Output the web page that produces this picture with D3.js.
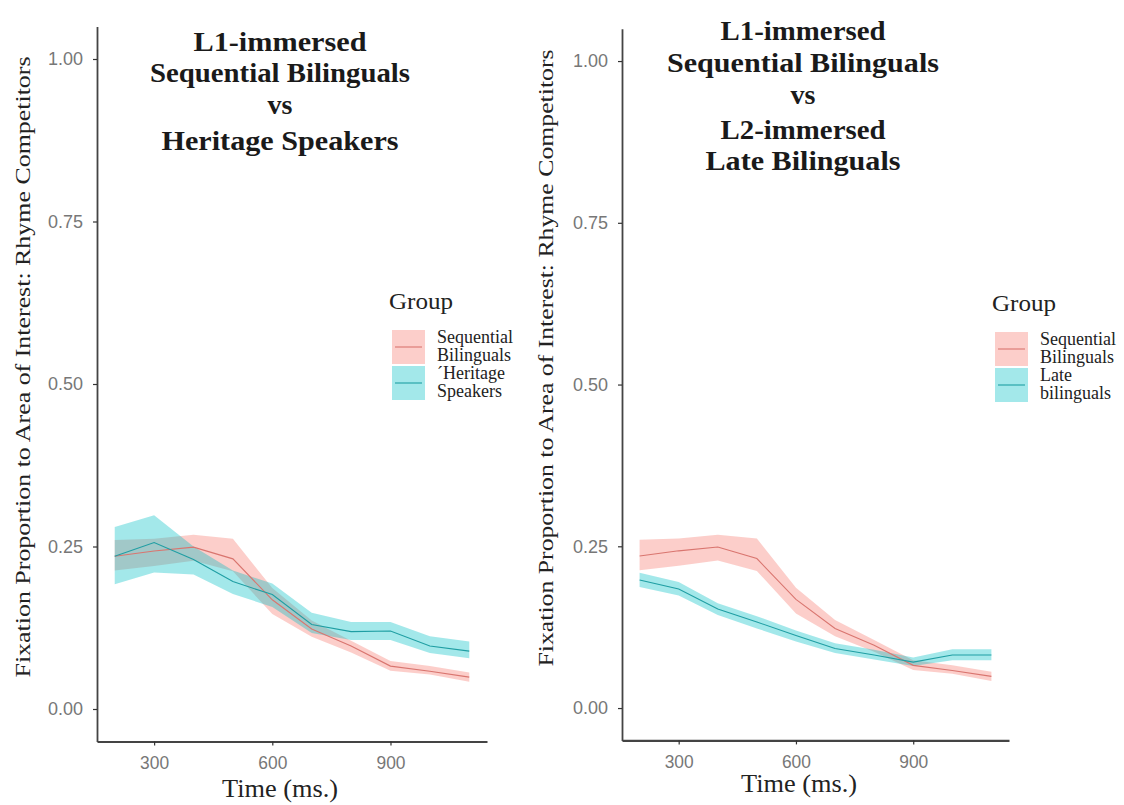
<!DOCTYPE html>
<html>
<head>
<meta charset="utf-8">
<script src="https://cdn.jsdelivr.net/npm/d3@7"></script>
<style>
  body { margin: 0; background: #fff; }
  svg { display: block; }
</style>
</head>
<body>
<svg id="chart" width="1124" height="805"></svg>
<script>
// time bins (ms.)
const times = [200, 300, 400, 500, 600, 700, 800, 900, 1000, 1100];
const xTicks = [300, 600, 900];
const yTicks = [0, 0.25, 0.5, 0.75, 1];

// L1-immersed sequential bilinguals (same group in both panels)
const seqMean = [0.235, 0.243, 0.249, 0.231, 0.168, 0.123, 0.097, 0.066, 0.058, 0.049];
const seqLo   = [0.213, 0.220, 0.228, 0.212, 0.146, 0.111, 0.087, 0.059, 0.053, 0.042];
const seqHi   = [0.260, 0.262, 0.268, 0.262, 0.186, 0.136, 0.105, 0.074, 0.066, 0.056];

// heritage speakers
const herMean = [0.235, 0.256, 0.230, 0.196, 0.176, 0.130, 0.119, 0.120, 0.097, 0.089];
const herLo   = [0.192, 0.210, 0.207, 0.177, 0.157, 0.117, 0.106, 0.106, 0.086, 0.078];
const herHi   = [0.280, 0.298, 0.250, 0.213, 0.193, 0.148, 0.134, 0.134, 0.112, 0.104];

// L2-immersed late bilinguals
const lateMean = [0.198, 0.184, 0.153, 0.133, 0.112, 0.092, 0.082, 0.071, 0.082, 0.082];
const lateLo   = [0.187, 0.174, 0.144, 0.123, 0.103, 0.085, 0.075, 0.065, 0.074, 0.074];
const lateHi   = [0.209, 0.195, 0.162, 0.142, 0.120, 0.100, 0.090, 0.078, 0.091, 0.091];

const leftTitle = ['L1-immersed', 'Sequential Bilinguals', 'vs', 'Heritage Speakers'];
const rightTitle = ['L1-immersed', 'Sequential Bilinguals', 'vs', 'L2-immersed', 'Late Bilinguals'];
const leftLegend = [['Sequential', 'Bilinguals'], ['\u00B4Heritage', 'Speakers']];
const rightLegend = [['Sequential', 'Bilinguals'], ['Late', 'bilinguals']];

const SERIF = "'Liberation Serif', 'Times New Roman', serif";
const SANS = "'Liberation Sans', Arial, sans-serif";
const PINK = '#F8766D';
const CYAN = '#00BFC4';
const PINK_LINE = '#d9756f';
const CYAN_LINE = '#1f9ea3';

const svg = d3.select('#chart');

function toRows(mean, lo, hi) {
  return times.map((t, i) => ({ t, m: mean[i], lo: lo[i], hi: hi[i] }));
}

function drawPanel(p) {
  const g = svg.append('g');
  const x = d3.scaleLinear().domain([155, 1145]).range([p.left, p.right]);
  const y = d3.scaleLinear().domain([-0.05, 1.05]).range([p.bottom, p.top]);

  const area = d3.area().x(d => x(d.t)).y0(d => y(d.lo)).y1(d => y(d.hi));
  const line = d3.line().x(d => x(d.t)).y(d => y(d.m));

  // ribbons first, then the mean lines on top
  p.series.forEach(s => {
    g.append('path').datum(s.rows)
      .attr('d', area)
      .attr('fill', s.fill)
      .attr('fill-opacity', 0.36);
  });
  p.series.forEach(s => {
    g.append('path').datum(s.rows)
      .attr('d', line)
      .attr('fill', 'none')
      .attr('stroke', s.stroke)
      .attr('stroke-width', 1.1);
  });

  // axes
  const ax = g.append('g')
    .attr('transform', `translate(0,${p.bottom})`)
    .call(d3.axisBottom(x).tickValues(xTicks).tickSize(4).tickPadding(11).tickSizeOuter(0));
  ax.select('.domain').attr('stroke', '#444').attr('stroke-width', 2.2);
  ax.selectAll('.tick line').attr('stroke', '#333').attr('stroke-width', 1.2);
  ax.selectAll('.tick text').attr('fill', '#777').style('font-family', SANS).style('font-size', '18px')
    .attr('textLength', 29).attr('lengthAdjust', 'spacingAndGlyphs');

  const ay = g.append('g')
    .attr('transform', `translate(${p.left},0)`)
    .call(d3.axisLeft(y).tickValues(yTicks).tickFormat(d3.format('.2f')).tickSize(4).tickPadding(10).tickSizeOuter(0));
  ay.select('.domain').attr('stroke', '#444').attr('stroke-width', 1.8);
  ay.selectAll('.tick line').attr('stroke', '#333').attr('stroke-width', 1.2);
  ay.selectAll('.tick text').attr('fill', '#777').style('font-family', SANS).style('font-size', '18px')
    .attr('textLength', 35).attr('lengthAdjust', 'spacingAndGlyphs');

  // y title
  g.append('text')
    .attr('transform', `translate(${p.yTitleX},${p.yTitleY}) rotate(-90)`)
    .attr('text-anchor', 'middle')
    .attr('textLength', p.yTitleLen)
    .attr('lengthAdjust', 'spacingAndGlyphs')
    .style('font-family', SERIF).style('font-size', '22px').attr('fill', '#222')
    .text('Fixation Proportion to Area of Interest: Rhyme Competitors');

  // x title
  g.append('text')
    .attr('x', p.xTitleX).attr('y', p.xTitleY)
    .attr('text-anchor', 'middle')
    .attr('textLength', 116)
    .attr('lengthAdjust', 'spacingAndGlyphs')
    .style('font-family', SERIF).style('font-size', '25px').attr('fill', '#222')
    .text('Time (ms.)');

  // panel title
  p.title.forEach((t, i) => {
    const txt = g.append('text')
      .attr('x', p.titleX).attr('y', p.titleBase[i])
      .attr('text-anchor', 'middle')
      .style('font-family', SERIF).style('font-size', '28px').style('font-weight', 'bold')
      .attr('fill', '#1a1a1a')
      .text(t);
    if (p.titleLen[i]) txt.attr('textLength', p.titleLen[i]).attr('lengthAdjust', 'spacingAndGlyphs');
  });

  // legend
  const lg = g.append('g');
  lg.append('text')
    .attr('x', p.legX - 3).attr('y', p.legY)
    .attr('textLength', 64).attr('lengthAdjust', 'spacingAndGlyphs')
    .style('font-family', SERIF).style('font-size', '24px').attr('fill', '#222')
    .text('Group');
  p.series.forEach((s, i) => {
    const ky = p.legY + 21 + i * 36;
    lg.append('rect')
      .attr('x', p.legX).attr('y', ky).attr('width', 33).attr('height', 34)
      .attr('fill', s.fill).attr('fill-opacity', 0.36);
    lg.append('line')
      .attr('x1', p.legX + 3).attr('x2', p.legX + 30)
      .attr('y1', ky + 17).attr('y2', ky + 17)
      .attr('stroke', s.stroke).attr('stroke-width', 1.1);
    p.legend[i].forEach((l, j) => {
      lg.append('text')
        .attr('x', p.legX + 45).attr('y', ky + 13 + j * 18)
        .style('font-family', SERIF).style('font-size', '18px').attr('fill', '#222')
        .text(l);
    });
  });
}

drawPanel({
  left: 97, right: 487, bottom: 741.5, top: 26.5,
  yTitleX: 30, yTitleY: 367, yTitleLen: 621,
  xTitleX: 280, xTitleY: 797,
  title: leftTitle, titleX: 280, titleBase: [51, 82, 114, 150], titleLen: [173, 260, null, 237],
  legX: 392, legY: 309, legend: leftLegend,
  series: [
    { rows: toRows(seqMean, seqLo, seqHi), fill: PINK, stroke: PINK_LINE },
    { rows: toRows(herMean, herLo, herHi), fill: CYAN, stroke: CYAN_LINE }
  ]
});

drawPanel({
  left: 622, right: 1009, bottom: 740.4, top: 28.7,
  yTitleX: 553, yTitleY: 358, yTitleLen: 617,
  xTitleX: 799, xTitleY: 792,
  title: rightTitle, titleX: 803, titleBase: [40, 72, 104, 139, 170], titleLen: [165, 272, null, 165, 195],
  legX: 995, legY: 311, legend: rightLegend,
  series: [
    { rows: toRows(seqMean, seqLo, seqHi), fill: PINK, stroke: PINK_LINE },
    { rows: toRows(lateMean, lateLo, lateHi), fill: CYAN, stroke: CYAN_LINE }
  ]
});
</script>
</body>
</html>
